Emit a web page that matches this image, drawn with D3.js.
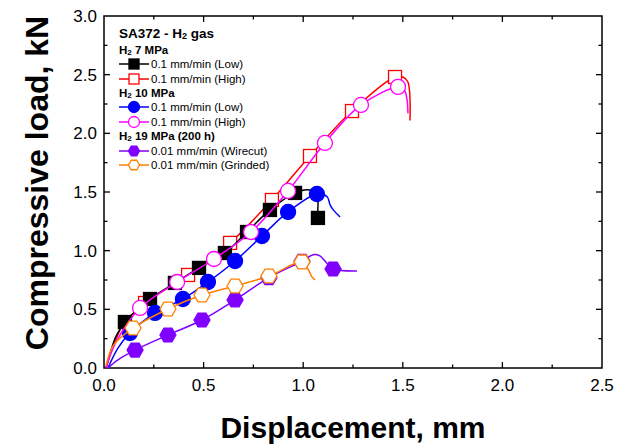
<!DOCTYPE html>
<html>
<head>
<meta charset="utf-8">
<script src="https://cdn.jsdelivr.net/npm/d3@7/dist/d3.min.js"></script>
<style>
  html, body { margin: 0; padding: 0; background: #fff; }
  svg { display: block; font-family: "Liberation Sans", Arial, sans-serif; }
</style>
</head>
<body>
<svg id="chart" width="632" height="444"></svg>
<script>
// Axis ticks
const xTicks = [0.0, 0.5, 1.0, 1.5, 2.0, 2.5];
const yTicks = [0.0, 0.5, 1.0, 1.5, 2.0, 2.5, 3.0];

// H2 7 MPa, 0.1 mm/min (Low) - black squares
const lowH7Line = [[0.01,0.0],[0.03,0.12],[0.06,0.27],[0.105,0.39],[0.231,0.588],[0.356,0.725],[0.477,0.853],[0.607,0.98],[0.718,1.159],[0.833,1.347],[0.959,1.492],[1.02,1.52],[1.065,1.50],[1.07,1.28]];
const lowH7Marks = [[0.105,0.392],[0.231,0.588],[0.356,0.725],[0.477,0.853],[0.607,0.98],[0.718,1.159],[0.833,1.347],[0.959,1.492],[1.074,1.279]];

// H2 7 MPa, 0.1 mm/min (High) - red open squares
const highH7Line = [[0.01,0.0],[0.05,0.2],[0.1,0.38],[0.206,0.554],[0.422,0.793],[0.633,1.066],[0.843,1.432],[1.034,1.807],[1.245,2.19],[1.461,2.48],[1.50,2.48],[1.525,2.44],[1.536,2.11]];
const highH7Marks = [[0.206,0.554],[0.422,0.793],[0.633,1.066],[0.843,1.432],[1.034,1.807],[1.245,2.19],[1.461,2.48]];

// H2 10 MPa, 0.1 mm/min (Low) - blue circles
const lowH10Line = [[0.02,0.0],[0.07,0.17],[0.13,0.298],[0.256,0.469],[0.396,0.588],[0.522,0.733],[0.658,0.912],[0.793,1.125],[0.924,1.33],[1.069,1.483],[1.12,1.46],[1.135,1.39],[1.15,1.35],[1.185,1.287]];
const lowH10Marks = [[0.13,0.298],[0.256,0.469],[0.396,0.588],[0.522,0.733],[0.658,0.912],[0.793,1.125],[0.924,1.33],[1.069,1.483]];

// H2 10 MPa, 0.1 mm/min (High) - magenta open circles
const highH10Line = [[0.01,0.0],[0.06,0.22],[0.181,0.512],[0.367,0.733],[0.552,0.929],[0.738,1.159],[0.924,1.509],[1.109,1.918],[1.29,2.242],[1.476,2.396],[1.505,2.38],[1.52,2.3],[1.526,2.17]];
const highH10Marks = [[0.181,0.512],[0.367,0.733],[0.552,0.929],[0.738,1.159],[0.924,1.509],[1.109,1.918],[1.29,2.242],[1.476,2.396]];

// H2 19 MPa (200 h), 0.01 mm/min (Wirecut) - violet hexagons
const wirecutLine = [[0.02,0.0],[0.07,0.07],[0.156,0.153],[0.321,0.281],[0.492,0.409],[0.658,0.58],[0.828,0.77],[0.994,0.91],[1.05,0.965],[1.084,0.955],[1.12,0.89],[1.15,0.844],[1.27,0.827]];
const wirecutMarks = [[0.156,0.153],[0.321,0.281],[0.492,0.409],[0.658,0.58],[0.828,0.77],[0.994,0.91],[1.15,0.844]];

// H2 19 MPa (200 h), 0.01 mm/min (Grinded) - orange open hexagons
const grindedLine = [[0.01,0.02],[0.05,0.2],[0.146,0.341],[0.321,0.503],[0.492,0.622],[0.658,0.699],[0.828,0.784],[0.994,0.904],[1.024,0.844],[1.044,0.776],[1.06,0.75]];
const grindedMarks = [[0.146,0.341],[0.321,0.503],[0.492,0.622],[0.658,0.699],[0.828,0.784],[0.994,0.904]];

const svg = d3.select("#chart");
const m = { left: 104, right: 602, top: 16, bottom: 368 };

const x = d3.scaleLinear().domain([0, 2.5]).range([m.left, m.right]);
const y = d3.scaleLinear().domain([0, 3.0]).range([m.bottom, m.top]);

// Frame
svg.append("rect")
  .attr("x", m.left).attr("y", m.top)
  .attr("width", m.right - m.left).attr("height", m.bottom - m.top)
  .attr("fill", "none").attr("stroke", "#000").attr("stroke-width", 1.5);

// Inward ticks on all four sides (major 0.5, minor 0.25)
const xMinor = d3.range(0.25, 2.5, 0.5);
const yMinor = d3.range(0.25, 3.0, 0.5);
const tickG = svg.append("g").attr("stroke", "#000").attr("stroke-width", 1.3);
function ticks(vals, len) {
  vals.forEach(v => {
    const px = x(v);
    tickG.append("line").attr("x1", px).attr("x2", px).attr("y1", m.bottom).attr("y2", m.bottom - len);
    tickG.append("line").attr("x1", px).attr("x2", px).attr("y1", m.top).attr("y2", m.top + len);
  });
}
function yticks(vals, len) {
  vals.forEach(v => {
    const py = y(v);
    tickG.append("line").attr("y1", py).attr("y2", py).attr("x1", m.left).attr("x2", m.left + len);
    tickG.append("line").attr("y1", py).attr("y2", py).attr("x1", m.right).attr("x2", m.right - len);
  });
}
ticks(xTicks.slice(1, -1), 6); ticks(xMinor, 3.5);
yticks(yTicks.slice(1, -1), 6); yticks(yMinor, 3.5);

// Tick labels
svg.append("g").selectAll("text").data(xTicks).join("text")
  .attr("x", d => x(d)).attr("y", 391)
  .attr("text-anchor", "middle").attr("font-size", 17)
  .text(d => d.toFixed(1));
svg.append("g").selectAll("text").data(yTicks).join("text")
  .attr("x", 97).attr("y", d => y(d) + 6)
  .attr("text-anchor", "end").attr("font-size", 17)
  .text(d => d.toFixed(1));

// Axis titles
svg.append("text").attr("x", 353).attr("y", 438)
  .attr("text-anchor", "middle").attr("font-size", 30).attr("font-weight", "bold")
  .text("Displacement, mm");
svg.append("text")
  .attr("transform", `translate(48,183) rotate(-90)`)
  .attr("text-anchor", "middle").attr("font-size", 32).attr("font-weight", "bold")
  .text("Compressive load, kN");

// Marker shapes
function hexPath(r) {
  const pts = d3.range(6).map(i => {
    const a = Math.PI / 3 * i;
    return [r * Math.cos(a), r * Math.sin(a)];
  });
  return "M" + pts.map(p => p.join(",")).join("L") + "Z";
}
function drawMarker(g, type, cx, cy, color, filled, s) {
  const fill = filled ? color : "#fff";
  if (type === "square") {
    g.append("rect").attr("x", cx - s / 2).attr("y", cy - s / 2).attr("width", s).attr("height", s)
      .attr("fill", fill).attr("stroke", color).attr("stroke-width", 1.3);
  } else if (type === "circle") {
    g.append("circle").attr("cx", cx).attr("cy", cy).attr("r", s / 2)
      .attr("fill", fill).attr("stroke", color).attr("stroke-width", 1.3);
  } else {
    g.append("path").attr("d", hexPath(s / 2)).attr("transform", `translate(${cx},${cy})`)
      .attr("fill", fill).attr("stroke", color).attr("stroke-width", 1.3);
  }
}

const series = [
  { line: highH7Line, marks: highH7Marks, color: "#ff0000", type: "square", filled: false, size: 13 },
  { line: lowH7Line, marks: lowH7Marks, color: "#000000", type: "square", filled: true, size: 13 },
  { line: lowH10Line, marks: lowH10Marks, color: "#0000ff", type: "circle", filled: true, size: 15 },
  { line: highH10Line, marks: highH10Marks, color: "#ff00ff", type: "circle", filled: false, size: 15 },
  { line: wirecutLine, marks: wirecutMarks, color: "#8000ff", type: "hex", filled: true, size: 16 },
  { line: grindedLine, marks: grindedMarks, color: "#ff8000", type: "hex", filled: false, size: 16 }
];

const lineGen = d3.line().x(d => x(d[0])).y(d => y(d[1])).curve(d3.curveCatmullRom.alpha(0.5));

const plot = svg.append("g");
series.forEach(s => {
  plot.append("path").datum(s.line).attr("d", lineGen)
    .attr("fill", "none").attr("stroke", s.color).attr("stroke-width", 1.5);
  const g = plot.append("g");
  s.marks.forEach(p => drawMarker(g, s.type, x(p[0]), y(p[1]), s.color, s.filled, s.size));
});

// Legend
const lg = svg.append("g");
lg.append("text").attr("x", 119).attr("y", 38).attr("font-size", 13.5).attr("font-weight", "bold")
  .html('SA372 - H<tspan font-size="9" dy="1">2</tspan><tspan dy="-1"> gas</tspan>');
const groups = [
  { title: "7 MPa", y: 54, items: [
    { label: "0.1 mm/min (Low)", s: series[1], y: 68 },
    { label: "0.1 mm/min (High)", s: series[0], y: 83 }]},
  { title: "10 MPa", y: 97, items: [
    { label: "0.1 mm/min (Low)", s: series[2], y: 111 },
    { label: "0.1 mm/min (High)", s: series[3], y: 126 }]},
  { title: "19 MPa (200 h)", y: 140, items: [
    { label: "0.01 mm/min (Wirecut)", s: series[4], y: 155 },
    { label: "0.01 mm/min (Grinded)", s: series[5], y: 169 }]}
];
groups.forEach(gr => {
  lg.append("text").attr("x", 119).attr("y", gr.y).attr("font-size", 11.5).attr("font-weight", "bold")
    .html(`H<tspan font-size="8" dy="1">2</tspan><tspan dy="-1"> ${gr.title}</tspan>`);
  gr.items.forEach(it => {
    const cy = it.y - 4;
    lg.append("line").attr("x1", 119).attr("x2", 149).attr("y1", cy).attr("y2", cy)
      .attr("stroke", it.s.color).attr("stroke-width", 1.5);
    drawMarker(lg, it.s.type, 134, cy, it.s.color, it.s.filled, it.s.type === "square" ? 10 : 11);
    lg.append("text").attr("x", 151).attr("y", it.y).attr("font-size", 11.5).text(it.label);
  });
});
</script>
</body>
</html>
